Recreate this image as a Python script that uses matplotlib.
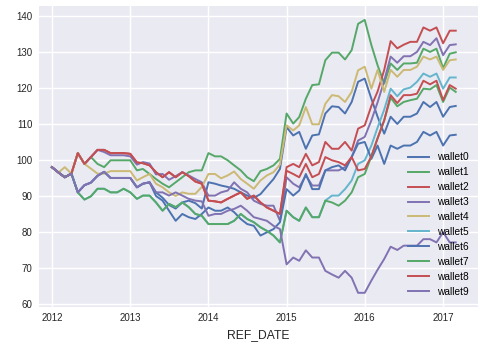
import matplotlib
matplotlib.use("Agg")
import matplotlib.pyplot as plt
import matplotlib.dates as mdates
import numpy as np
import pandas as pd

# monthly dates, 2012-01 .. 2017-03
dates = pd.date_range("2012-01-01", "2017-03-01", freq="MS")

wallet0 = [98, 96.5, 95.2, 96.2, 91, 93, 93.7, 95.6, 96.7, 95, 95, 95, 95, 92.4, 93.4, 93.8,
           91, 89.5, 87.5, 86.5, 88.2, 88.7, 88, 86.5, 93.8, 93.4, 92.9, 92.5, 92, 91, 90.1, 89.5,
           90.5, 92.6, 94.7, 97.5, 109.1, 106.8, 107.8, 103.1, 106.8, 107.1, 112.9, 114.9, 114.7, 112.9,
           116.1, 121.7, 122.6, 117, 112, 107.3, 112, 110, 112, 112, 112.9, 116.1, 114.7, 116.1, 112, 114.7, 115]
wallet1 = [98, 96.5, 95.2, 96.2, 101.9, 98.9, 100.8, 98.9, 98, 99.9, 99.9, 99.9, 99.9, 97.1, 97.5, 96.1,
           94.7, 93.4, 92.4, 93.8, 95.2, 96.6, 97.1, 97.1, 101.9, 101, 101, 99.9, 98.5, 97.1, 95.2, 94.1,
           96.9, 97.5, 98.5, 100.3, 112.9, 110.1, 111.9, 117, 120.8, 121, 127.7, 129.8, 129.8, 127.9,
           130.5, 137.8, 138.9, 131.9, 126.3, 121.2, 126.8, 125, 126.8, 126.8, 127, 130.9, 130, 130.9, 125.5, 129.5, 129.9]
wallet2 = [98, 96.5, 95.2, 96.2, 101.9, 98.9, 100.8, 102.8, 102.8, 101.9, 101.9, 101.9, 101.7, 99.3, 99.1, 98.5,
           96.6, 95.2, 96.6, 95.2, 96.6, 95.5, 94, 93.4, 88.7, 88.5, 88.2, 89.2, 90.1, 91, 89.2, 90.1,
           88.2, 86.8, 85.9, 85, 98, 98.9, 98, 101.7, 98.5, 99.4, 105, 103.1, 103.1, 105,
           102.6, 108.7, 109.6, 115, 119, 125, 133, 131, 132, 132.8, 132.8, 136.8, 135.9, 136.8, 132.4, 135.9, 135.9]
wallet3 = [98, 96.5, 95.2, 96.2, 101.9, 98.9, 100.8, 102.8, 102.2, 101.3, 101.3, 101.3, 101, 98.7, 99.4, 99,
           96, 96.1, 94.5, 95.5, 96.6, 95.7, 94.7, 93.8, 90.1, 90.1, 91, 91.5, 93.8, 92, 91, 88.7,
           87.8, 87.3, 87.3, 83.1, 95.2, 93.4, 92.4, 95.7, 92.9, 92.9, 97.1, 97.1, 97.1, 98,
           100.8, 105.4, 106.4, 111, 116, 122, 128.7, 127, 128.8, 128.8, 130, 132.8, 131.9, 133.8, 129.1, 131.9, 132.1]
wallet4 = [98, 96.5, 98, 96.2, 101.9, 98.9, 97.6, 96.2, 96.2, 96.9, 96.9, 96.9, 96.9, 94.3, 95.2, 96.1,
           93.4, 92.4, 91, 90, 91, 90.6, 90.6, 92.5, 96.1, 96.1, 94.9, 95.7, 96.8, 94.7, 93.4, 92,
           94.3, 95.7, 96.6, 98.7, 109.6, 108.2, 109.6, 114.7, 109.9, 109.9, 115.6, 118, 117.7, 116.1,
           118.9, 124.9, 125.9, 119.8, 125, 118.9, 125, 123.1, 125, 125, 125.9, 128.7, 127.9, 128.7, 125, 127.7, 127.9]
wallet5 = [98, 96.5, 95.2, 96.2, 91, 89, 89.9, 92, 92, 91, 91, 92, 91, 89.2, 90.1, 90.1,
           88.2, 85.9, 87.8, 86.9, 88.2, 86.9, 85, 84.5, 82.2, 82.2, 82.2, 82.2, 83.1, 85, 83.6, 82.7,
           81.3, 80.3, 79, 77.1, 85.9, 84.1, 83.1, 86.8, 84.1, 84.1, 88.7, 90.1, 90.1, 91.9,
           94.3, 98.9, 99.9, 104, 109, 114, 119.8, 117.7, 119.6, 120.1, 121.7, 124, 123.1, 124, 119.8, 122.9, 122.9]
wallet6 = [98, 96.5, 95.2, 96.2, 91, 93, 93.7, 95.6, 96.7, 95, 95, 95, 95, 92.4, 93.4, 93.8,
           90, 88.7, 85.9, 83.1, 85, 84.1, 83.6, 85, 86.8, 85.9, 85.9, 86.8, 85.5, 83.6, 82.2, 81.7,
           79, 79.9, 80.8, 82.7, 91.9, 90.1, 91.5, 96.1, 91.9, 91.9, 97.1, 98, 98.5, 97.1,
           100.8, 104.5, 105, 100.3, 104, 98.9, 104, 103.1, 104, 104, 105, 107.8, 106.8, 107.8, 104, 106.8, 107]
wallet7 = [98, 96.5, 95.2, 96.2, 91, 89, 89.9, 92, 92, 91, 91, 92, 91, 89.2, 90.1, 90.1,
           88.2, 85.9, 87.8, 86.9, 88.2, 86.9, 85, 84.5, 82.2, 82.2, 82.2, 82.2, 83.1, 85, 83.6, 82.7,
           81.3, 80.3, 79, 77.1, 85.9, 84.1, 83.1, 86.8, 84.1, 84.1, 88.7, 88.2, 87.3, 88.7,
           91, 95.2, 96.1, 101, 106, 111, 117.3, 114.9, 116.1, 116.6, 117, 119.8, 119.6, 120.8, 116.1, 120.1, 118.9]
wallet8 = [98, 96.5, 95.2, 96.2, 101.9, 98.9, 100.8, 102.8, 102.8, 101.9, 101.9, 101.9, 101.7, 99.3, 99.1, 98.5,
           96.6, 95.2, 96.6, 95.2, 96.6, 95.5, 94, 93.4, 88.7, 88.5, 88.2, 89.2, 90.1, 91, 89.2, 90.1,
           88.2, 86.8, 85.9, 85, 97, 96.1, 95.2, 98.9, 95.2, 96.1, 100.8, 99.9, 99.4, 98.5,
           100.8, 97.1, 97.5, 101, 106, 111, 118, 115.8, 118, 118, 118.4, 122, 121, 122, 116.6, 120.8, 119.8]
wallet9 = [98, 96.5, 95.2, 96.2, 91, 93, 93.7, 95.6, 96.7, 95, 95, 95, 95, 92.4, 93.4, 93.8,
           91, 91, 90.1, 91, 90.1, 89.2, 88.7, 88.5, 84.5, 85, 85, 85.9, 86.4, 87.3, 85.9, 84.1,
           83.6, 83.1, 81.7, 80.8, 71, 72.9, 72, 74.9, 72.9, 72.9, 69.2, 68.2, 67.3, 69.2,
           67.3, 63.1, 63.1, 66.5, 69.5, 72.5, 75.9, 75, 76.2, 76.2, 76.2, 78, 78, 77.1, 79.9, 77.1, 77.1]

names = ["wallet0", "wallet1", "wallet2", "wallet3", "wallet4",
         "wallet5", "wallet6", "wallet7", "wallet8", "wallet9"]
series = [wallet0, wallet1, wallet2, wallet3, wallet4,
          wallet5, wallet6, wallet7, wallet8, wallet9]

# old seaborn "deep" palette
colors = ["#4C72B0", "#55A868", "#C44E52", "#8172B2", "#CCB974", "#64B5CD"]

plt.rcParams["font.family"] = ["Liberation Sans", "DejaVu Sans"]
fig = plt.figure(figsize=(4.84, 3.44), dpi=100)
ax = fig.add_axes([0.0816, 0.109, 0.906, 0.873])
ax.set_facecolor("#EAEAF2")
for s in ax.spines.values():
    s.set_visible(False)
ax.grid(True, color="white", linewidth=1.0)
ax.set_axisbelow(True)

for i, (name, vals) in enumerate(zip(names, series)):
    ax.plot(dates, vals, color=colors[i % 6], linewidth=1.4, label=name)

ax.xaxis.set_major_locator(mdates.YearLocator())
ax.xaxis.set_major_formatter(mdates.DateFormatter("%Y"))
ax.set_xlim(pd.Timestamp("2011-11-04"), pd.Timestamp("2017-06-13"))
ax.set_ylim(59.3, 142.7)
ax.set_yticks([60, 70, 80, 90, 100, 110, 120, 130, 140])
ax.tick_params(axis="both", length=0, labelsize=7, colors="#262626")
ax.tick_params(axis="x", pad=5)
ax.tick_params(axis="y", pad=5)
ax.set_xlabel("REF_DATE", fontsize=8.7, color="#262626", labelpad=4)

leg = ax.legend(loc="lower right", frameon=False, fontsize=7.3, handlelength=2.1,
                handletextpad=0.75, labelspacing=0.49, borderaxespad=0.55)

fig.savefig("out.png", dpi=100)
